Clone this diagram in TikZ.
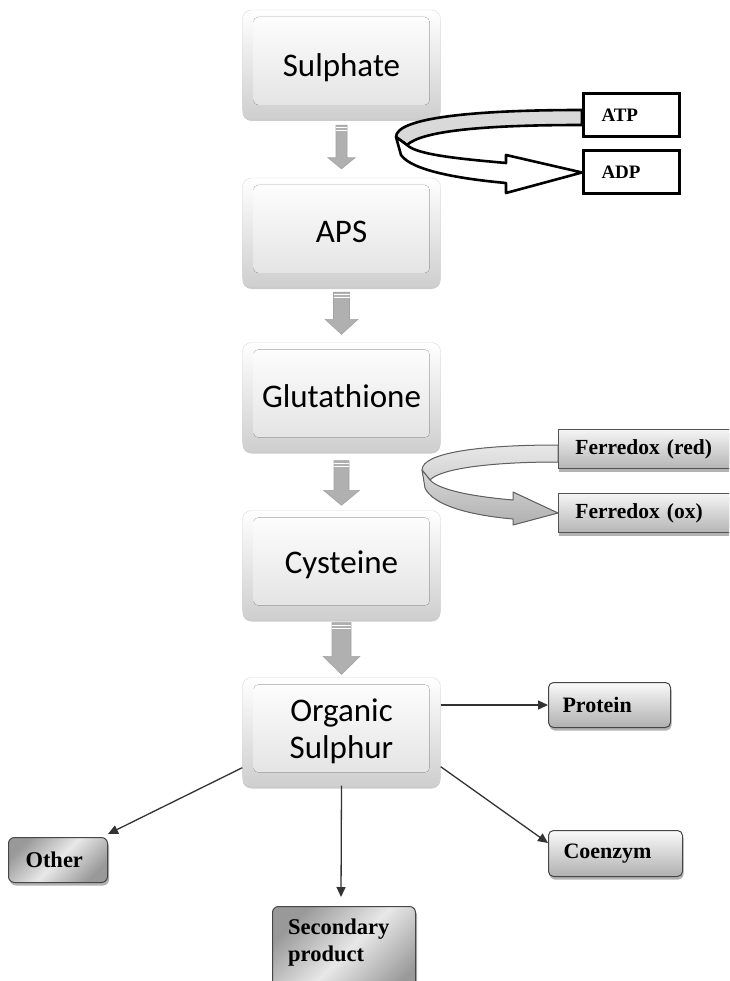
\documentclass[tikz,border=0pt]{standalone}
\usepackage{fontspec}
\setmainfont{Liberation Serif}
\newfontfamily\calib{Carlito}
\usetikzlibrary{calc,arrows.meta,shadows}

\tikzset{
  % large bevelled process boxes
  mainbox/.style={rectangle, rounded corners=9pt, minimum width=198pt, minimum height=108pt,
    draw=gray!30, top color=white, bottom color=gray!38, inner sep=0pt, align=center,
    font=\calib\fontsize{33}{37}\selectfont,
    drop shadow={shadow xshift=0pt, shadow yshift=-3pt, opacity=0.2, fill=black},
    path picture={\fill[rounded corners=5pt, top color=white, bottom color=gray!24]
      ($(path picture bounding box.north west)+(11,7)$) rectangle
      ($(path picture bounding box.south east)+(-11,-13)$);}},
  % black outlined cofactor boxes
  cofbox/.style={rectangle, draw=black, line width=3pt, fill=white, inner sep=0pt,
    minimum height=43pt, text width=60pt, inner xsep=18pt, align=left,
    font=\bfseries\fontsize{19}{22}\selectfont},
  % grey shaded ferredoxin boxes
  ferbox/.style={rectangle, draw=gray!65!black, line width=0.8pt, top color=gray!8, bottom color=gray!58,
    inner sep=0pt, minimum height=39pt, text width=160pt, inner xsep=17pt, align=left,
    font=\bfseries\fontsize{21.5}{24}\selectfont,
    drop shadow={shadow xshift=1pt, shadow yshift=-3pt, opacity=0.3, fill=black}},
  % product boxes with vertical shading
  prodbox/.style={rectangle, rounded corners=5pt, draw=gray!55!black, line width=1pt,
    top color=gray!4, bottom color=gray!62, inner sep=0pt, minimum height=45pt, align=left,
    font=\bfseries\fontsize{22}{25}\selectfont,
    drop shadow={shadow xshift=1pt, shadow yshift=-3pt, opacity=0.3, fill=black}},
  % product boxes with diagonal shading
  diagbox/.style={rectangle, rounded corners=6pt, draw=gray!55!black, line width=1pt,
    left color=gray!80, right color=gray!80, middle color=gray!18, shading angle=45,
    inner sep=0pt, minimum height=45pt, align=left,
    font=\bfseries\fontsize{22.5}{27}\selectfont,
    drop shadow={shadow xshift=1.5pt, shadow yshift=-3pt, opacity=0.3, fill=black}},
  blockarr/.style={fill=gray!62, draw=gray!72, line width=0.6pt},
  conn/.style={draw=gray!40!black, line width=1.3pt, -{Triangle[length=10pt,width=9pt]}},
  ribbonblack/.style={draw=black, line width=2.6pt, line join=round},
  ribbongrey/.style={draw=gray!75!black, line width=1pt, line join=round},
}

% vertical block arrow: start, tip, shaft half width, head half width, head length
\newcommand\blockarrow[5]{%
  \draw[blockarr] ($(#1)+(-#3,0)$) -- ($(#2)+(-#3,-#5)$) -- ($(#2)+(-#4,-#5)$) -- (#2)
    -- ($(#2)+(#4,-#5)$) -- ($(#2)+(#3,-#5)$) -- ($(#1)+(#3,0)$) -- cycle;
  \draw[white, line width=0.9pt] ($(#1)+(-#3,2.5)$) -- ($(#1)+(#3,2.5)$);
  \draw[white, line width=0.9pt] ($(#1)+(-#3,5.5)$) -- ($(#1)+(#3,5.5)$);
}
% text set a little lower without changing its box
\newcommand\lowertext[1]{\raisebox{-4pt}[\height][\depth]{#1}}

\begin{document}
\begin{tikzpicture}[x=1pt, y=-1pt]
\clip (0,0) rectangle (729,981);
\fill[white] (0,0) rectangle (729,981);

% main pathway
\node[mainbox] (sulph) at (341.5,64)    {\lowertext{Sulphate}};
\node[mainbox] (aps)   at (341.5,232)   {APS};
\node[mainbox] (glut)  at (341.5,396.5) {Glutathione};
\node[mainbox] (cyst)  at (341.5,564.5) {Cysteine};
\node[mainbox] (org)   at (341.5,731.5) {Organic\\Sulphur};

\coordinate (a1s) at ($(sulph.south)+(0,7)$);
\coordinate (a1e) at ($(aps.north)+(0,-9)$);
\coordinate (a2s) at ($(aps.south)+(0,6)$);
\coordinate (a2e) at ($(glut.north)+(0,-8)$);
\coordinate (a3s) at ($(glut.south)+(0,10)$);
\coordinate (a3e) at ($(cyst.north)+(0,-5)$);
\coordinate (a4s) at ($(cyst.south)+(0,4)$);
\coordinate (a4e) at ($(org.north)+(0,-3)$);
\blockarrow{a1s}{a1e}{5.5}{13.5}{11}
\blockarrow{a2s}{a2e}{8}{16.5}{15}
\blockarrow{a3s}{a3e}{7.5}{18}{15}
\blockarrow{a4s}{a4e}{9.5}{18.5}{18}

% ATP -> ADP
\node[cofbox] (atp) at (631.5,115)   {ATP};
\node[cofbox] (adp) at (631.5,172.5) {ADP};
\begin{scope}[shift={(atp.west)}]
  \coordinate (tl) at (-186,22);
  \coordinate (tb) at (-181,40);
  \coordinate (tp) at (-175,30);
  \filldraw[ribbonblack, fill=gray!30] (0,-5) .. controls (-110,-5) and (-186,3) .. (tl)
     -- (tp) .. controls (-160,16) and (-100,10) .. (0,10) -- cycle;
  \filldraw[ribbonblack, fill=white] (tl) -- (tb) .. controls (-170,56) and (-120,64) .. (-76,68)
     -- (-76,78) -- (adp.west) -- (-76,40) -- (-76,48)
     .. controls (-120,44) and (-165,40) .. (tp) -- cycle;
\end{scope}

% ferredoxin cycle
\node[ferbox, anchor=west] (fred) at (558,449) {Ferredox (red)};
\node[ferbox, anchor=west] (fox)  at (558,513) {Ferredox (ox)};
\begin{scope}[shift={(fred.west)}]
  \coordinate (fl) at (-136,21);
  \coordinate (fb) at (-133,39);
  \coordinate (fp) at (-128,31);
  \filldraw[ribbongrey, top color=gray!18, bottom color=gray!36] (0,-4) .. controls (-80,-4) and (-136,4) .. (fl)
     -- (fp) .. controls (-118,20) and (-70,13) .. (0,13) -- cycle;
  \filldraw[ribbongrey, top color=gray!30, bottom color=gray!62] (fl) -- (fb) .. controls (-125,56) and (-90,66) .. (-45,70)
     -- (-45,76) -- (fox.west) -- (-45,43) -- (-45,51)
     .. controls (-80,48) and (-118,42) .. (fp) -- cycle;
\end{scope}

% products of organic sulphur
\node[prodbox, anchor=north west, minimum width=122pt, text width=94pt, inner xsep=14pt] (prot) at (548,682) {Protein};
\node[prodbox, anchor=north west, minimum width=134pt, text width=104pt, inner xsep=15pt, minimum height=46pt] (coen) at (548,830) {Coenzym};
\node[diagbox, anchor=north west, minimum width=99pt, text width=65pt, inner xsep=16pt] (oth) at (8,837) {Other};
\node[diagbox, anchor=north west, minimum width=143pt, minimum height=96pt] (sec) at (272,906) {};
\node[anchor=north west, inner sep=0pt, align=left, font=\bfseries\fontsize{22.5}{27}\selectfont] (sectext) at ($(sec.north west)+(16,13)$) {Secondary\\product};

\draw[conn] (org.east |- prot.west) -- (prot.west);
\draw[conn] ($(org.south west)+(0,-18)$) -- ($(oth.north east)+(0,-3)$);
\draw[conn] (org.south) -- ($(sec.north)+(-3,-9)$);
\draw[conn] ($(org.south east)+(0,-19)$) -- ($(coen.north west)+(0,13)$);
\end{tikzpicture}
\end{document}
